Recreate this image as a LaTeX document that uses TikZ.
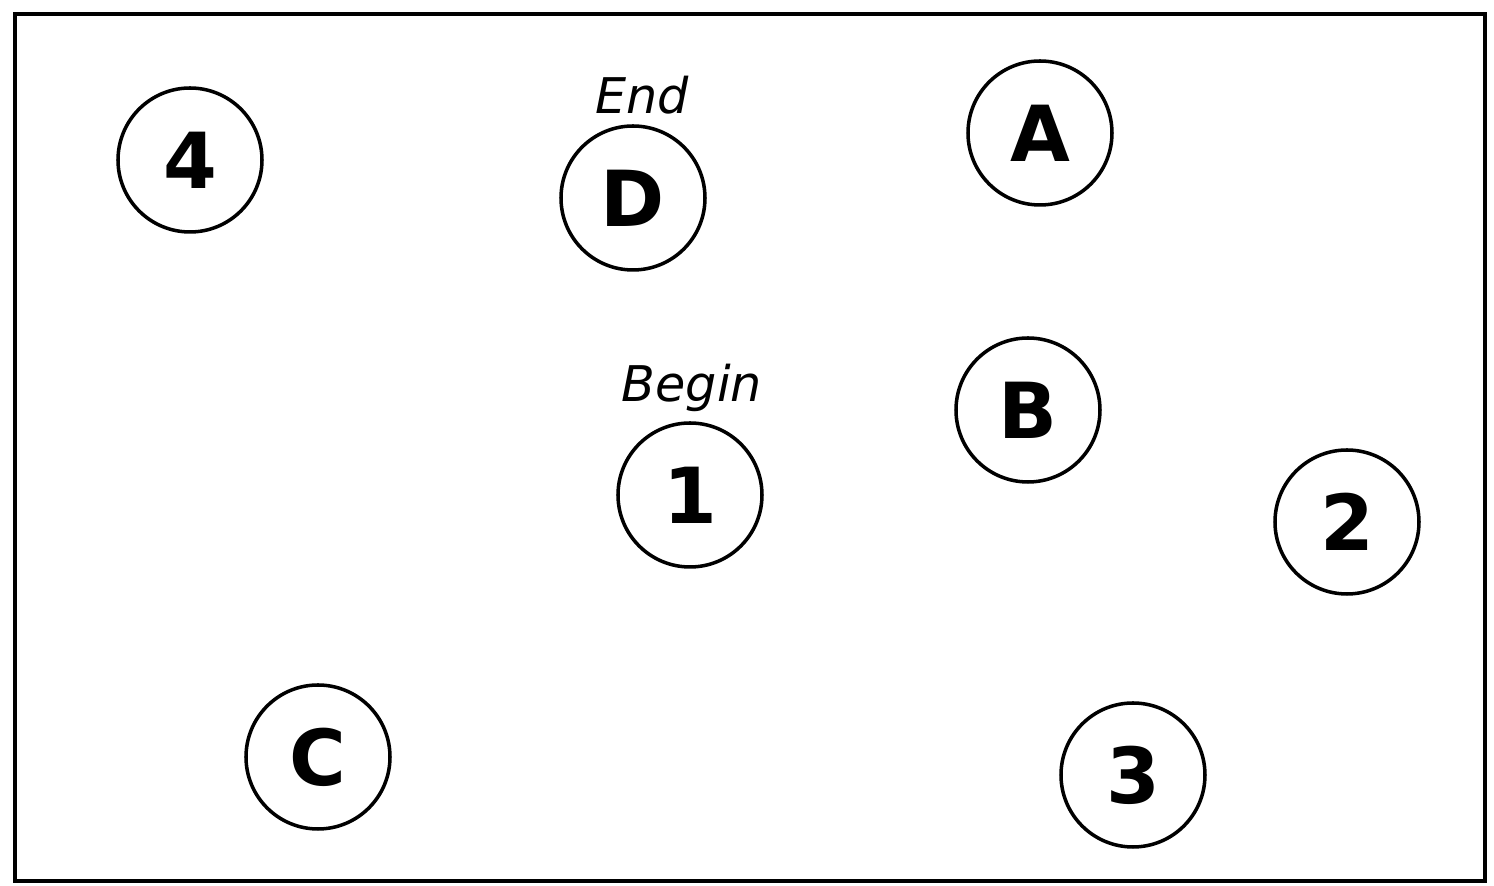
\documentclass[tikz,border=0pt]{standalone}
\usepackage{fontspec}
\setsansfont{DejaVu Sans}
\tikzset{
  spot/.style={draw,circle,line width=1pt,minimum size=1.44cm,inner sep=0pt,
    font=\sffamily\bfseries\fontsize{22}{26}\selectfont},
  tag/.style={font=\sffamily\itshape\fontsize{14}{17}\selectfont}
}
\begin{document}
\begin{tikzpicture}
				\useasboundingbox (0,0) rectangle (14.94,8.86);
				\draw[line width=1.1pt] (0.15,0.05) rectangle (14.85,8.72);
				\node[spot] (n4) at (1.90,7.26) {4};
				\node[spot] (d) at (6.33,6.88) {D};
				\node[spot] (a) at (10.40,7.53) {A};
				\node[spot] (b) at (10.28,4.76) {B};
				\node[spot] (n1) at (6.90,3.91) {1};
				\node[spot] (n2) at (13.47,3.64) {2};
				\node[spot] (c) at (3.18,1.29) {C};
				\node[spot] (n3) at (11.33,1.11) {3};
				\node[tag] (dend) at (6.42,7.91) {End};
				\node[tag] (nbegin) at (6.92,4.98) {Begin};
			\end{tikzpicture}
\end{document}
